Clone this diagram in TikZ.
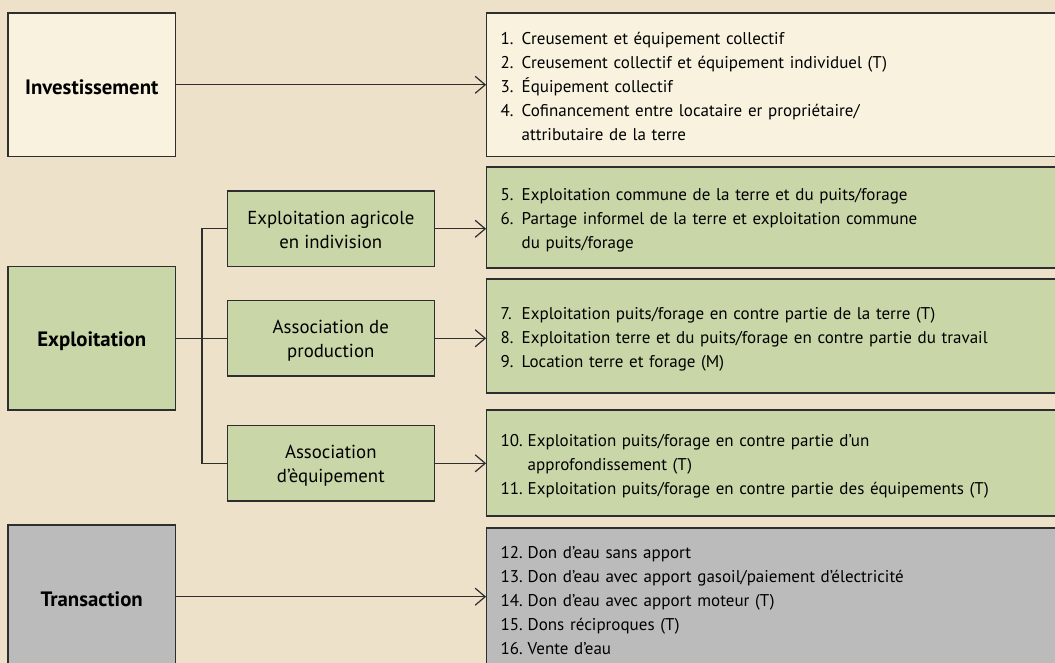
\documentclass[tikz,border=0pt]{standalone}
\usepackage{fontspec}
\setmainfont{PT Sans}
\usetikzlibrary{arrows.meta}
\definecolor{bg}{HTML}{EDE1CA}
\definecolor{cream}{HTML}{F8F2DF}
\definecolor{vert}{HTML}{C9D6A7}
\definecolor{gris}{HTML}{BBBBBB}
\definecolor{ln}{HTML}{2E2E2E}
\newcommand\nA[1]{\makebox[21pt][l]{#1}}
\newcommand\nB[1]{\makebox[27pt][l]{#1}}
\newcommand\dn[1]{\raisebox{-2.5pt}[\height][\depth]{#1}}
\begin{document}
\begin{tikzpicture}[x=1pt,y=-1pt,
  box/.style={draw=ln, line width=1.2pt, inner sep=0pt, rectangle},
  cat/.style={box, minimum width=167.5pt, minimum height=143.5pt, font=\bfseries\fontsize{20.8}{24}\selectfont},
  mid/.style={box, fill=vert, minimum width=207pt, minimum height=75.5pt, font=\fontsize{18.8}{24}\selectfont},
  lst/.style={box, inner xsep=14pt, minimum width=578pt, text width=550pt, align=left, font=\fontsize{17}{24}\selectfont},
  arr/.style={draw=ln, line width=1.2pt, -{Straight Barb[length=10pt,width=17pt]}},
  link/.style={draw=ln, line width=1.2pt}]
\clip (0,0) rectangle (1055,663);
\fill[bg] (0,0) rectangle (1055,663);

\node[cat, fill=cream] (inv) at (91.75,84.8) {\dn{Investissement}};
\node[cat, fill=vert] (expl) at (91.75,338.3) {\dn{Exploitation}};
\node[cat, fill=gris] (tra) at (91.75,596.7) {\dn{Transaction}};

\node[mid] (mA) at (330.8,228.8) {\dn{\begin{tabular}{@{}c@{}}Exploitation agricole\\en indivision\end{tabular}}};
\node[mid] (mB) at (330.8,338.3) {\dn{\begin{tabular}{@{}c@{}}Association de\\production\end{tabular}}};
\node[mid] (mC) at (330.8,463.3) {\dn{\begin{tabular}{@{}c@{}}Association\\d’èquipement\end{tabular}}};

\node[lst, fill=cream, minimum height=143.7pt] (r1) at (775.7,84.8) {\dn{\begin{tabular}{@{}l@{}l@{}}
\nA{1.}&Creusement et équipement collectif\\
\nA{2.}&Creusement collectif et équipement individuel (T)\\
\nA{3.}&Équipement collectif\\
\nA{4.}&Cofinancement entre locataire er propriétaire/\\
&attributaire de la terre
\end{tabular}}};
\node[lst, fill=vert, minimum height=101pt] (r2) at (775.7,217.5) {\dn{\begin{tabular}{@{}l@{}l@{}}
\nA{5.}&Exploitation commune de la terre et du puits/forage\\
\nA{6.}&Partage informel de la terre et exploitation commune\\
&du puits/forage
\end{tabular}}};
\node[lst, fill=vert, minimum height=114pt] (r3) at (775.7,336) {\dn{\begin{tabular}{@{}l@{}l@{}}
\nA{7.}&Exploitation puits/forage en contre partie de la terre (T)\\
\nA{8.}&Exploitation terre et du puits/forage en contre partie du travail\\
\nA{9.}&Location terre et forage (M)
\end{tabular}}};
\node[lst, fill=vert, minimum height=106pt] (r4) at (775.7,463) {\dn{\begin{tabular}{@{}l@{}l@{}}
\nB{10.}&Exploitation puits/forage en contre partie d’un\\
&approfondissement (T)\\
\nB{11.}&Exploitation puits/forage en contre partie des équipements (T)
\end{tabular}}};
\node[lst, fill=gris, minimum height=143pt] (r5) at (775.7,599.5) {\dn{\begin{tabular}{@{}l@{}l@{}}
\nB{12.}&Don d’eau sans apport\\
\nB{13.}&Don d’eau avec apport gasoil/paiement d’électricité\\
\nB{14.}&Don d’eau avec apport moteur (T)\\
\nB{15.}&Dons réciproques (T)\\
\nB{16.}&Vente d’eau
\end{tabular}}};

\coordinate (tr) at (202,338.3);
\draw[link] (expl.east) -- (mB.west);
\draw[link] (mA.west) -| (tr) |- (mC.west);
\draw[arr] (inv.east) -- (inv.east -| r1.west);
\draw[arr] (mA.east) -- (mA.east -| r2.west);
\draw[arr] (mB.east) -- (mB.east -| r3.west);
\draw[arr] (mC.east) -- (mC.east -| r4.west);
\draw[arr] (tra.east) -- (tra.east -| r5.west);
\end{tikzpicture}
\end{document}
